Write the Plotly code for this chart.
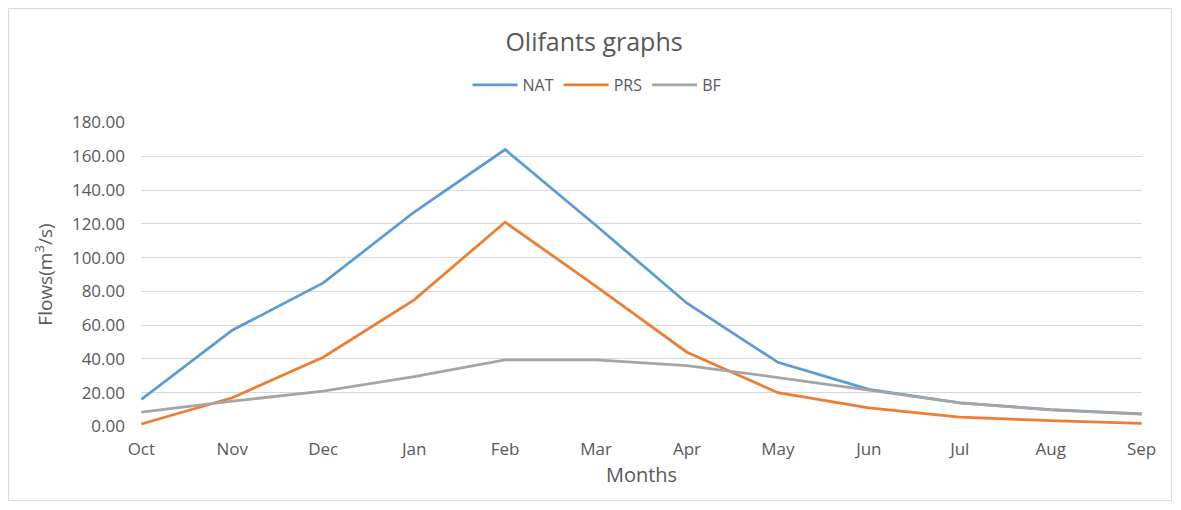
import plotly.graph_objects as go

months = ["Oct", "Nov", "Dec", "Jan", "Feb", "Mar", "Apr", "May", "Jun", "Jul", "Aug", "Sep"]
nat = [16.0, 57.0, 85.0, 127.0, 164.0, 119.0, 73.0, 38.0, 22.0, 14.0, 10.0, 7.5]
prs = [1.5, 17.0, 41.0, 75.0, 121.0, 83.0, 44.0, 20.0, 11.0, 5.5, 3.5, 1.8]
bf = [8.5, 15.0, 21.0, 29.5, 39.5, 39.5, 36.0, 29.0, 21.5, 14.0, 9.8, 7.3]
yticks = [0, 20, 40, 60, 80, 100, 120, 140, 160, 180]

FONT = "Open Sans"
GRAY = "#595959"

fig = go.Figure()
for name, vals, col in [("NAT", nat, "#5B9BD5"), ("PRS", prs, "#ED7D31"), ("BF", bf, "#A5A5A5")]:
    fig.add_trace(go.Scatter(x=list(range(len(months))), y=vals, mode="lines", name=name,
                             line=dict(color=col, width=2.75)))

# page body has an 8px margin; figure coordinates = reference pixels - 8
OFF = 8
W, H = 1165, 494
L, R, T, B = 141 - OFF, 1142 - OFF, 122 - OFF, 427 - OFF
pw, ph = R - L, B - T

fig.update_layout(
    width=W, height=H,
    margin=dict(l=L, r=W - R, t=T, b=H - B),
    paper_bgcolor="white", plot_bgcolor="white",
    font=dict(family=FONT, color=GRAY, size=16),
    title=dict(text="Olifants graphs", x=(594 - OFF) / W, xanchor="center",
               y=1 - (42 - OFF) / H, yanchor="middle",
               font=dict(size=25, color=GRAY, family=FONT)),
    legend=dict(orientation="h", x=(597 - OFF - L) / pw, xanchor="center",
                y=(B - (85 - OFF)) / ph, yanchor="middle",
                font=dict(size=16, color=GRAY), itemwidth=45, bgcolor="rgba(0,0,0,0)"),
    xaxis=dict(tickmode="array", tickvals=list(range(len(months))), ticktext=months,
               range=[-0.004, 11.004], showgrid=False, zeroline=False, showline=False,
               ticks="", ticklabelstandoff=10, tickfont=dict(size=17, color=GRAY),
               title=dict(text="Months", font=dict(size=20, color=GRAY), standoff=8)),
    yaxis=dict(tickmode="array", tickvals=yticks, ticktext=[f"{v:.2f}" for v in yticks],
               range=[-0.3, 180.3], showgrid=True, gridcolor="#D9D9D9", gridwidth=1,
               zeroline=False, showline=False, ticks="", ticklabelstandoff=15,
               tickfont=dict(size=17, color=GRAY),
               title=dict(text="Flows(m<sup>3</sup>/s)", font=dict(size=19, color=GRAY), standoff=14)),
    showlegend=True,
)

fig.add_shape(type="rect", xref="paper", yref="paper",
              x0=(0.5 - L) / pw, x1=(W - 1.5 - L) / pw, y0=(B - (H - 1.5)) / ph, y1=(B - 0.5) / ph,
              line=dict(color="#D9D9D9", width=1), fillcolor="rgba(0,0,0,0)", layer="below")

fig.write_html("out.html")
